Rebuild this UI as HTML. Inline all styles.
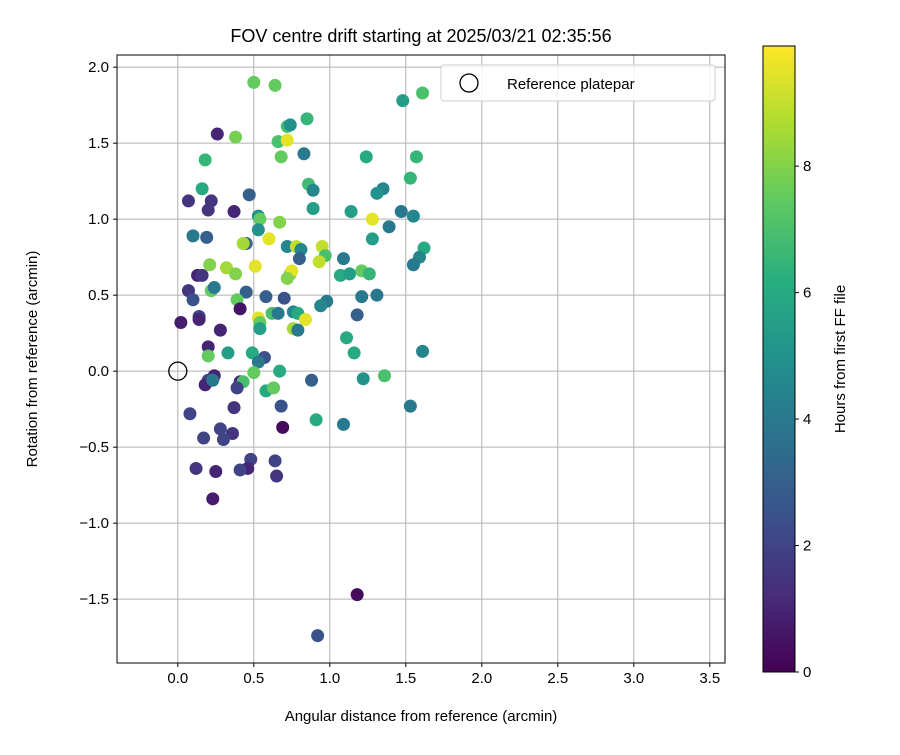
<!DOCTYPE html>
<html><head><meta charset="utf-8"><style>
body{margin:0;background:#fff;}
svg text{font-family:"Liberation Sans","DejaVu Sans",sans-serif;fill:#000;}
</style></head><body>
<svg id="chart" width="900" height="750" xmlns="http://www.w3.org/2000/svg">
<defs>
<linearGradient id="vir" x1="0" y1="1" x2="0" y2="0">
<stop offset="0" stop-color="#440154"/><stop offset="0.125" stop-color="#472d7b"/>
<stop offset="0.25" stop-color="#3b528b"/><stop offset="0.375" stop-color="#2c728e"/>
<stop offset="0.5" stop-color="#21918c"/><stop offset="0.625" stop-color="#28ae80"/>
<stop offset="0.75" stop-color="#5ec962"/><stop offset="0.875" stop-color="#addc30"/>
<stop offset="1" stop-color="#fde725"/>
</linearGradient>
</defs>
<text x="421" y="42" font-size="18" text-anchor="middle">FOV centre drift starting at 2025/03/21 02:35:56</text>
<g id="grid"></g>
<g id="points"></g>
<rect x="117" y="55" width="608" height="608" fill="none" stroke="#000" stroke-width="1"/>
<g id="ticks"></g>
<text x="421" y="721" font-size="15" text-anchor="middle">Angular distance from reference (arcmin)</text>
<text transform="translate(37,359) rotate(-90)" font-size="15" text-anchor="middle">Rotation from reference (arcmin)</text>
<g>
<rect x="441" y="65" width="274" height="36" rx="3" fill="#fff" fill-opacity="0.85" stroke="#ccc"/>
<circle cx="469" cy="83" r="9" fill="none" stroke="#000" stroke-width="1.3"/>
<text x="507" y="89" font-size="15">Reference platepar</text>
</g>
<rect x="763" y="46" width="32" height="626" fill="url(#vir)" stroke="#000" stroke-width="1"/>
<g id="cbticks"></g>
<text transform="translate(845,359) rotate(-90)" font-size="15" text-anchor="middle">Hours from first FF file</text>
</svg>
<script>
const xTicks=[0,0.5,1,1.5,2,2.5,3,3.5];
const yTicks=[-1.5,-1,-0.5,0,0.5,1,1.5,2];
const cTicks=[0,2,4,6,8];
const xs=[0.50,0.64,1.48,1.61,0.85,0.26,0.38,0.72,0.74,0.66,0.72,0.83,1.24,1.57,0.68,0.18,1.53,0.86,0.16,1.35,1.31,0.89,0.47,0.07,0.22,0.20,0.37,0.89,1.14,1.47,1.55,0.53,0.54,1.28,0.67,1.39,0.53,0.10,0.19,0.60,1.28,0.45,0.43,0.72,0.78,0.95,0.81,1.62,0.97,0.80,1.09,1.59,0.93,0.21,1.55,0.32,0.38,0.74,0.13,0.16,0.51,0.75,0.72,1.07,1.13,1.21,1.26,0.07,0.22,0.24,0.45,0.10,0.39,0.58,0.70,1.21,1.31,0.98,0.94,0.76,0.79,0.62,1.18,0.41,0.14,0.14,0.02,0.53,0.54,0.66,0.84,0.54,0.76,0.79,0.28,1.11,0.20,0.33,0.49,1.16,1.61,0.20,0.57,0.53,0.50,0.67,1.36,1.22,0.88,0.24,0.20,0.18,0.23,0.41,0.43,0.39,0.58,0.63,1.53,0.68,0.37,0.08,0.91,1.09,0.69,0.28,0.17,0.36,0.30,0.48,0.64,0.12,0.46,0.41,0.25,0.65,0.23,1.18,0.92];
const ys=[1.90,1.88,1.78,1.83,1.66,1.56,1.54,1.61,1.62,1.51,1.52,1.43,1.41,1.41,1.41,1.39,1.27,1.23,1.20,1.20,1.17,1.19,1.16,1.12,1.12,1.06,1.05,1.07,1.05,1.05,1.02,1.02,1.00,1.00,0.98,0.95,0.93,0.89,0.88,0.87,0.87,0.84,0.84,0.82,0.82,0.82,0.80,0.81,0.76,0.74,0.74,0.75,0.72,0.70,0.70,0.68,0.64,0.64,0.63,0.63,0.69,0.66,0.61,0.63,0.64,0.66,0.64,0.53,0.53,0.55,0.52,0.47,0.47,0.49,0.48,0.49,0.50,0.46,0.43,0.39,0.38,0.38,0.37,0.41,0.36,0.34,0.32,0.35,0.32,0.38,0.34,0.28,0.28,0.27,0.27,0.22,0.16,0.12,0.12,0.12,0.13,0.10,0.09,0.06,-0.01,0.00,-0.03,-0.05,-0.06,-0.03,-0.06,-0.09,-0.06,-0.07,-0.07,-0.11,-0.13,-0.11,-0.23,-0.23,-0.24,-0.28,-0.32,-0.35,-0.37,-0.38,-0.44,-0.41,-0.45,-0.58,-0.59,-0.64,-0.64,-0.65,-0.66,-0.69,-0.84,-1.47,-1.74];
const hours=[7.5,7.5,5.5,7.0,6.5,1.0,7.8,6.8,5.0,7.0,9.5,4.0,6.0,6.5,7.5,6.5,6.5,6.8,6.0,4.5,5.0,4.5,3.0,1.5,1.5,1.5,1.0,5.5,5.5,4.0,4.5,5.0,7.5,9.5,8.0,4.0,5.0,4.0,3.0,9.5,5.5,3.0,8.5,4.5,9.0,9.0,4.5,6.0,7.0,3.0,4.0,4.5,9.0,8.0,4.0,8.5,8.0,7.5,1.0,1.5,9.5,9.5,8.0,6.0,5.5,7.5,6.5,1.5,7.5,4.0,3.0,2.5,7.5,3.0,2.5,4.0,4.0,4.0,4.5,4.5,6.0,7.0,3.0,0.5,2.0,1.0,0.8,9.5,7.5,4.0,9.5,5.5,8.5,4.0,1.0,6.0,1.0,5.5,6.0,6.0,4.5,7.5,2.5,4.0,7.5,6.0,7.0,5.0,3.0,1.0,2.0,1.0,4.0,1.0,7.0,2.0,6.0,7.5,4.0,2.5,1.5,2.0,6.0,4.0,0.3,2.0,2.0,1.5,2.0,2.0,2.0,1.5,1.0,2.0,1.0,1.5,0.8,0.3,2.5];
const NS="http://www.w3.org/2000/svg";
const X0=117,X1=725,Y0=55,Y1=663,xmin=-0.40,xmax=3.6,ymin=-1.92,ymax=2.08,cmax=9.9;
function sx(v){return X0+(v-xmin)/(xmax-xmin)*(X1-X0);}
function sy(v){return Y1-(v-ymin)/(ymax-ymin)*(Y1-Y0);}
function sc(v){return 672-v/cmax*626;}
const stops=[[68,1,84],[71,45,123],[59,82,139],[44,114,142],[33,145,140],[40,174,128],[94,201,98],[173,220,48],[253,231,37]];
function vir(h){let t=Math.max(0,Math.min(1,h/cmax))*8;let i=Math.min(7,Math.floor(t));let f=t-i;const a=stops[i],b=stops[i+1];return `rgb(${a.map((c,k)=>Math.round(c+(b[k]-c)*f)).join(',')})`;}
function mk(tag,at,parent){const e=document.createElementNS(NS,tag);for(const k in at)e.setAttribute(k,at[k]);parent.appendChild(e);return e;}
const grid=document.getElementById('grid'),ticks=document.getElementById('ticks'),pts=document.getElementById('points'),cb=document.getElementById('cbticks');
xTicks.forEach(v=>{const x=sx(v);
 const g=mk('line',{x1:x,x2:x,y1:Y0,y2:Y1,stroke:'#b0b0b0','stroke-width':1},grid);
 
 
 mk('line',{x1:x,x2:x,y1:Y1,y2:Y1+4,stroke:'#000'},ticks);
 const t=mk('text',{x:x,y:Y1+20,'font-size':15,'text-anchor':'middle'},ticks);t.textContent=v.toFixed(1);
 
 });
yTicks.forEach(v=>{const y=sy(v);
 const g=mk('line',{x1:X0,x2:X1,y1:y,y2:y,stroke:'#b0b0b0','stroke-width':1},grid);
 
 
 mk('line',{x1:X0-4,x2:X0,y1:y,y2:y,stroke:'#000'},ticks);
 const t=mk('text',{x:X0-8,y:y+5,'font-size':15,'text-anchor':'end'},ticks);t.textContent=(v<0?'\u2212':'')+Math.abs(v).toFixed(1);
 
 });
cTicks.forEach(v=>{const y=sc(v);
 mk('line',{x1:795,x2:799,y1:y,y2:y,stroke:'#000'},cb);
 const t=mk('text',{x:803,y:y+5,'font-size':15},cb);t.textContent=v;
 
 });
xs.forEach((x,i)=>{const c=mk('circle',{cx:sx(x),cy:sy(ys[i]),r:6.5,fill:vir(hours[i])},pts);
 
 });
const ref=mk('circle',{cx:sx(0),cy:sy(0),r:9,fill:'none',stroke:'#000','stroke-width':1.3},pts);


</script>
</body></html>
